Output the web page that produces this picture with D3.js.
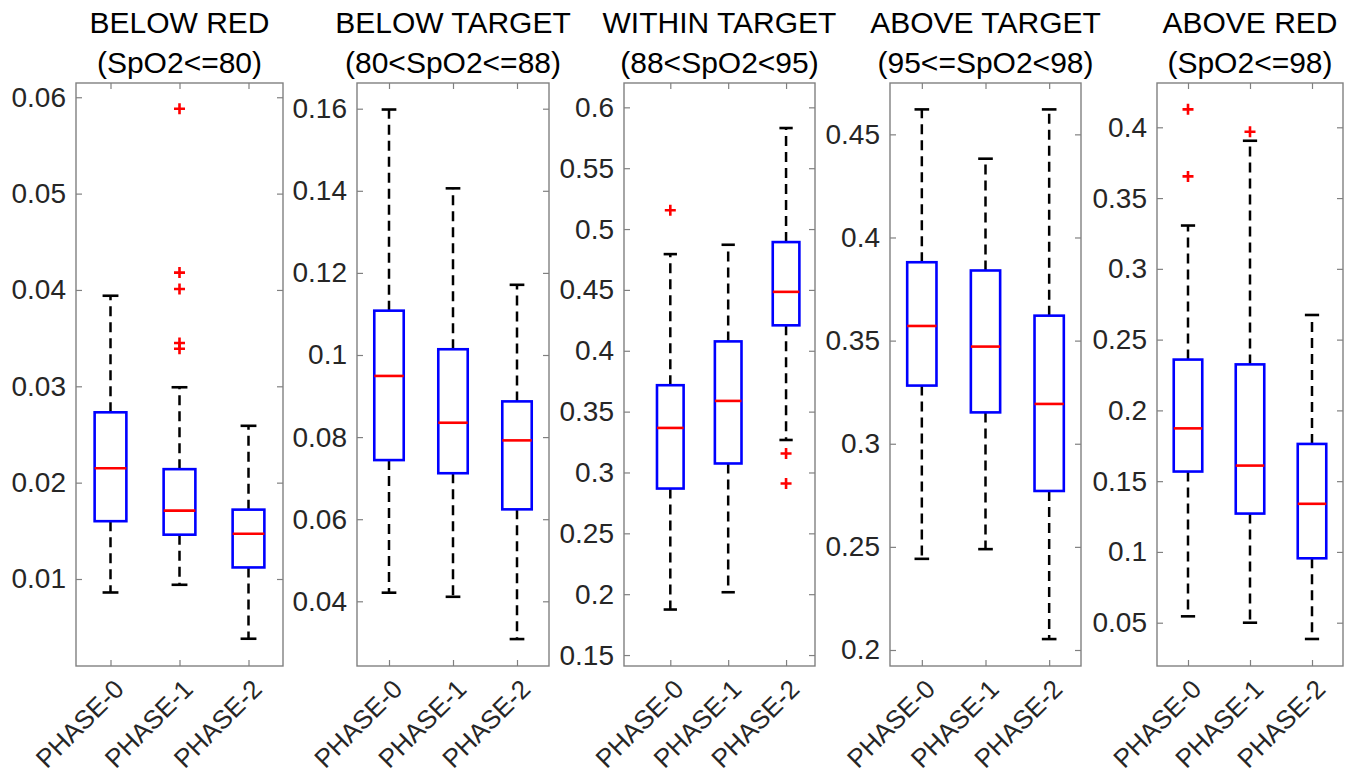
<!DOCTYPE html>
<html>
<head>
<meta charset="utf-8">
<script src="https://cdn.jsdelivr.net/npm/d3@7"></script>
<style>
  html, body { margin: 0; padding: 0; background: #fff; }
  svg { display: block; }
  text { font-family: "Liberation Sans", Arial, Helvetica, sans-serif; }
</style>
</head>
<body>
<svg id="chart" width="1351" height="782"></svg>
<script>
// ---------------- DATA ----------------
const categories = ["PHASE-0", "PHASE-1", "PHASE-2"];
const titleLine1 = ["BELOW RED", "BELOW TARGET", "WITHIN TARGET", "ABOVE TARGET", "ABOVE RED"];
const titleLine2 = ["(SpO2<=80)", "(80<SpO2<=88)", "(88<SpO2<95)", "(95<=SpO2<98)", "(SpO2<=98)"];

// per panel, per phase
const whiskerLow  = [[0.0086, 0.0094, 0.0038], [0.0421, 0.0411, 0.0308], [0.1874, 0.2016, 0.3267], [0.2442, 0.2489, 0.2053], [0.0545, 0.0500, 0.0385]];
const quartile1   = [[0.0160, 0.0146, 0.0112], [0.0744, 0.0712, 0.0624], [0.2868, 0.3074, 0.4209], [0.3282, 0.3152, 0.2771], [0.1568, 0.1271, 0.0955]];
const medians     = [[0.0215, 0.0171, 0.0147], [0.0949, 0.0835, 0.0792], [0.3366, 0.3588, 0.4484], [0.3571, 0.3471, 0.3193], [0.1873, 0.1610, 0.1340]];
const quartile3   = [[0.0273, 0.0214, 0.0172], [0.1108, 0.1014, 0.0887], [0.3717, 0.4077, 0.4893], [0.3880, 0.3840, 0.3621], [0.2359, 0.2325, 0.1763]];
const whiskerHigh = [[0.0394, 0.0299, 0.0259], [0.1598, 0.1406, 0.1171], [0.4794, 0.4871, 0.5830], [0.4621, 0.4382, 0.4621], [0.3306, 0.3905, 0.2674]];
const outliers    = [
  [[], [0.0588, 0.0418, 0.0401, 0.0345, 0.0339], []],
  [[], [], []],
  [[0.5154], [], [0.3156, 0.2910]],
  [[], [], []],
  [[0.4127, 0.3653], [0.3969], []]
];

// axis limits and ticks
const yLimits = [[0.00097, 0.06148], [0.02424, 0.16626], [0.1410, 0.6200], [0.19224, 0.4749], [0.01941, 0.4313]];
const xLimits = [[0.5, 3.5], [0.5, 3.5], [0.2, 3.5], [0.5, 3.5], [0.5, 3.5]];
const yTickValues = [
  [0.01, 0.02, 0.03, 0.04, 0.05, 0.06],
  [0.04, 0.06, 0.08, 0.1, 0.12, 0.14, 0.16],
  [0.15, 0.2, 0.25, 0.3, 0.35, 0.4, 0.45, 0.5, 0.55, 0.6],
  [0.2, 0.25, 0.3, 0.35, 0.4, 0.45],
  [0.05, 0.1, 0.15, 0.2, 0.25, 0.3, 0.35, 0.4]
];

// ---------------- LAYOUT ----------------
const panelLeft  = [76, 357, 624, 890, 1157];
const panelRight = [283, 549, 815, 1081, 1343];
const plotTop = 83, plotBottom = 666;
const boxHalf = 0.23, capHalf = 0.115;
const axisColor = "#808080", textColor = "#262626";

const svg = d3.select("#chart");

titleLine1.forEach((t, p) => {
  const g = svg.append("g");
  const x = d3.scaleLinear().domain(xLimits[p]).range([panelLeft[p], panelRight[p]]);
  const y = d3.scaleLinear().domain(yLimits[p]).range([plotBottom, plotTop]);

  // Title
  const cx = (panelLeft[p] + panelRight[p]) / 2;
  g.append("text").attr("x", cx).attr("y", 33).attr("text-anchor", "middle")
    .attr("font-size", 30).attr("fill", "#000").text(titleLine1[p]);
  g.append("text").attr("x", cx).attr("y", 73).attr("text-anchor", "middle")
    .attr("font-size", 30).attr("fill", "#000").text(titleLine2[p]);

  // Axes
  const yAxisL = d3.axisLeft(y).tickValues(yTickValues[p]).tickSize(-6).tickPadding(10)
    .tickFormat(d => d3.format("")(+d.toFixed(4)));
  const gl = g.append("g").attr("transform", `translate(${panelLeft[p]},0)`).call(yAxisL);
  const yAxisR = d3.axisRight(y).tickValues(yTickValues[p]).tickSize(-6).tickFormat("");
  const gr = g.append("g").attr("transform", `translate(${panelRight[p]},0)`).call(yAxisR);
  const xAxisB = d3.axisBottom(x).tickValues([1, 2, 3]).tickSize(-6).tickFormat("");
  const gb = g.append("g").attr("transform", `translate(0,${plotBottom})`).call(xAxisB);
  const xAxisT = d3.axisTop(x).tickValues([1, 2, 3]).tickSize(-6).tickFormat("");
  const gt = g.append("g").attr("transform", `translate(0,${plotTop})`).call(xAxisT);
  [gl, gr, gb, gt].forEach(a => {
    a.select(".domain").remove();
    a.selectAll(".tick line").attr("stroke", axisColor).attr("stroke-width", 1.2);
  });
  gl.selectAll(".tick text").attr("font-size", 28).attr("fill", textColor)
    .attr("font-family", "'Liberation Sans', Arial, sans-serif");
  g.append("rect").attr("x", panelLeft[p]).attr("y", plotTop)
    .attr("width", panelRight[p] - panelLeft[p]).attr("height", plotBottom - plotTop)
    .attr("fill", "none").attr("stroke", axisColor).attr("stroke-width", 1.4);

  // x tick labels rotated 45°
  categories.forEach((c, i) => {
    const tx = x(i + 1), ty = plotBottom + 12;
    g.append("text").attr("text-anchor", "end")
      .attr("transform", `translate(${tx + 2},${ty}) rotate(-45)`)
      .attr("dy", "0.7em")
      .attr("font-size", 26).attr("fill", textColor).text(c);
  });

  // Boxes
  categories.forEach((c, i) => {
    const xc = i + 1;
    // whiskers (dashed)
    g.append("line").attr("x1", x(xc)).attr("x2", x(xc))
      .attr("y1", y(quartile3[p][i])).attr("y2", y(whiskerHigh[p][i]))
      .attr("stroke", "#000").attr("stroke-width", 2.5).attr("stroke-dasharray", "10,6");
    g.append("line").attr("x1", x(xc)).attr("x2", x(xc))
      .attr("y1", y(quartile1[p][i])).attr("y2", y(whiskerLow[p][i]))
      .attr("stroke", "#000").attr("stroke-width", 2.5).attr("stroke-dasharray", "10,6");
    // caps
    [whiskerHigh[p][i], whiskerLow[p][i]].forEach(v => {
      g.append("line").attr("x1", x(xc - capHalf)).attr("x2", x(xc + capHalf))
        .attr("y1", y(v)).attr("y2", y(v)).attr("stroke", "#000").attr("stroke-width", 2.6);
    });
    // box
    g.append("rect").attr("x", x(xc - boxHalf)).attr("y", y(quartile3[p][i]))
      .attr("width", x(xc + boxHalf) - x(xc - boxHalf))
      .attr("height", y(quartile1[p][i]) - y(quartile3[p][i]))
      .attr("fill", "none").attr("stroke", "#0000ff").attr("stroke-width", 2.6);
    // median
    g.append("line").attr("x1", x(xc - boxHalf)).attr("x2", x(xc + boxHalf))
      .attr("y1", y(medians[p][i])).attr("y2", y(medians[p][i]))
      .attr("stroke", "#ff0000").attr("stroke-width", 2.6);
    // outliers
    outliers[p][i].forEach(v => {
      const px = x(xc), py = y(v), s = 5.5;
      g.append("path").attr("d", `M${px - s},${py}H${px + s}M${px},${py - s}V${py + s}`)
        .attr("stroke", "#ff0000").attr("stroke-width", 2.6).attr("fill", "none");
    });
  });
});
</script>
</body>
</html>
